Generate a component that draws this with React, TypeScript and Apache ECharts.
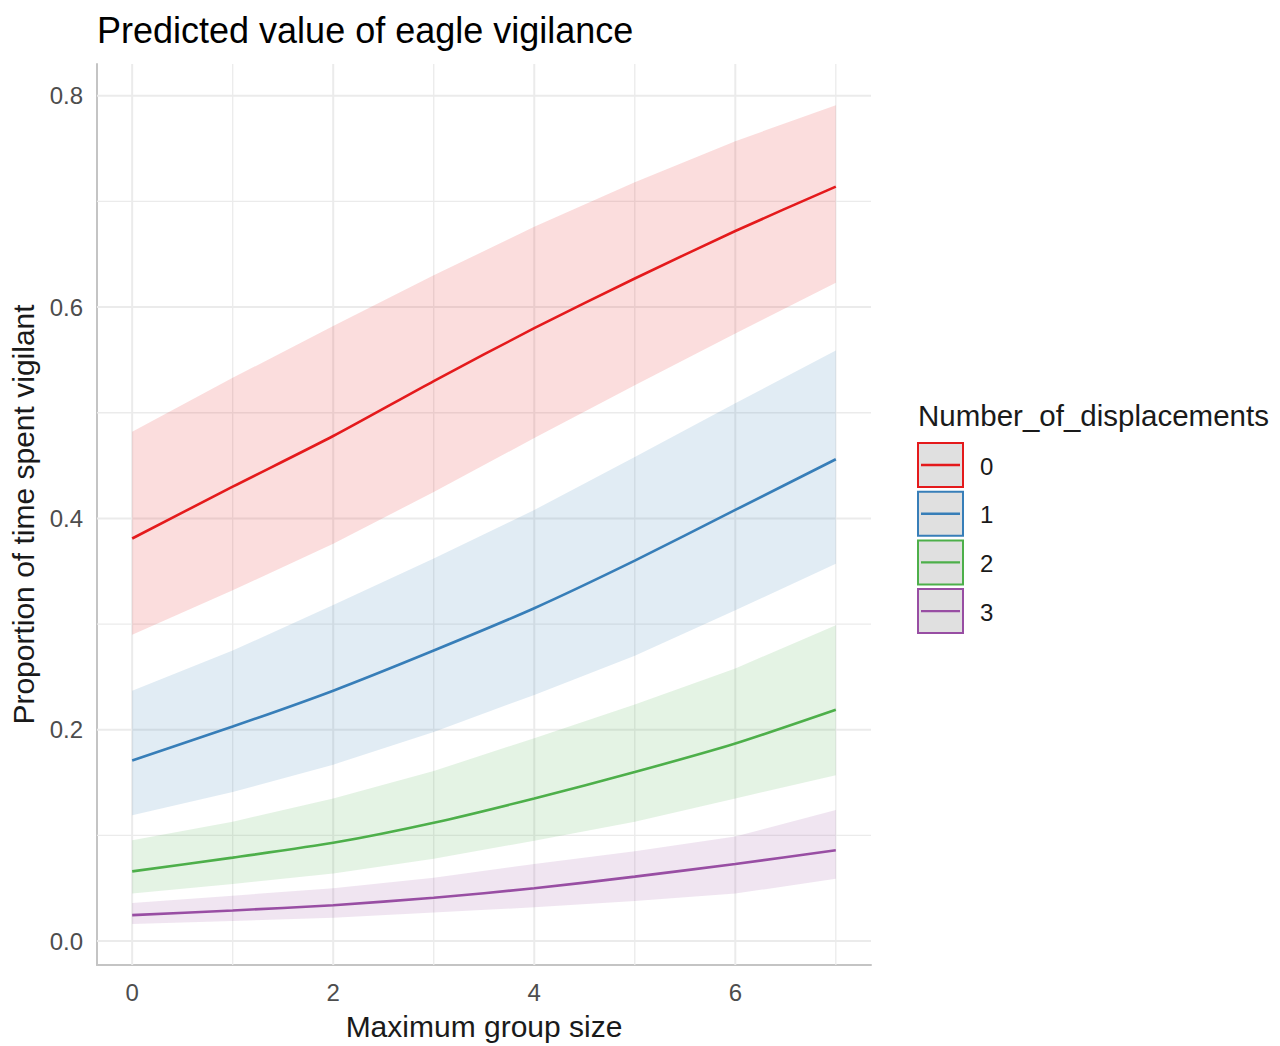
import React, { useEffect, useRef } from "react";
import * as echarts from "echarts";

const groupSize = [0, 1, 2, 3, 4, 5, 6, 7];
const groups = ["0", "1", "2", "3"];
const colors = ["#e41a1c", "#377eb8", "#4daf4a", "#984ea3"];

const fit0 = [0.381, 0.43, 0.478, 0.53, 0.58, 0.627, 0.672, 0.714];
const upper0 = [0.482, 0.533, 0.582, 0.63, 0.676, 0.718, 0.757, 0.791];
const lower0 = [0.29, 0.332, 0.376, 0.425, 0.476, 0.526, 0.575, 0.623];

const fit1 = [0.171, 0.203, 0.237, 0.275, 0.315, 0.36, 0.408, 0.456];
const upper1 = [0.237, 0.275, 0.318, 0.362, 0.408, 0.458, 0.509, 0.559];
const lower1 = [0.119, 0.141, 0.167, 0.198, 0.233, 0.27, 0.313, 0.357];

const fit2 = [0.066, 0.079, 0.093, 0.112, 0.135, 0.16, 0.187, 0.219];
const upper2 = [0.0955, 0.113, 0.135, 0.161, 0.192, 0.224, 0.258, 0.299];
const lower2 = [0.045, 0.054, 0.064, 0.078, 0.095, 0.113, 0.135, 0.157];

const fit3 = [0.0246, 0.029, 0.034, 0.041, 0.05, 0.061, 0.073, 0.086];
const upper3 = [0.036, 0.043, 0.05, 0.06, 0.073, 0.085, 0.099, 0.124];
const lower3 = [0.0162, 0.019, 0.022, 0.027, 0.032, 0.038, 0.045, 0.059];

const fits = [fit0, fit1, fit2, fit3];
const uppers = [upper0, upper1, upper2, upper3];
const lowers = [lower0, lower1, lower2, lower3];

const xMajor = [0, 2, 4, 6];
const xMinor = [1, 3, 5, 7];
const yMajor = [0, 0.2, 0.4, 0.6, 0.8];
const yMinor = [0.1, 0.3, 0.5, 0.7];

const FONT = "Liberation Sans, Arial, sans-serif";

export default function App() {
  const ref = useRef<HTMLDivElement>(null);

  useEffect(() => {
    document.body.style.margin = "0";
    if (!ref.current) return;
    const chart = echarts.init(ref.current, null, { renderer: "svg" });

    const gridData: number[][] = [
      ...xMajor.map((v) => [0, v, 1]),
      ...xMinor.map((v) => [0, v, 0]),
      ...yMajor.map((v) => [1, v, 1]),
      ...yMinor.map((v) => [1, v, 0]),
    ];

    const bandSeries = groups.map((g, gi) => ({
      type: "custom",
      name: "band" + g,
      z: 2,
      silent: true,
      data: groupSize.map((x, i) => [x, uppers[gi][i], lowers[gi][i]]),
      encode: { x: 0, y: [1, 2] },
      renderItem: (params: any, api: any) => {
        if (params.dataIndex !== 0) return null;
        const top = groupSize.map((x, i) => api.coord([x, uppers[gi][i]]));
        const bot = groupSize.map((x, i) => api.coord([x, lowers[gi][i]])).reverse();
        return {
          type: "polygon",
          shape: { points: [...top, ...bot] },
          style: { fill: colors[gi], opacity: 0.15 },
        };
      },
    }));

    const lineSeries = groups.map((g, gi) => ({
      type: "line",
      name: g,
      z: 3,
      data: groupSize.map((x, i) => [x, fits[gi][i]]),
      showSymbol: false,
      symbol: "none",
      smooth: 0.2,
      lineStyle: { color: colors[gi], width: 2.6 },
      itemStyle: { color: colors[gi] },
      silent: true,
    }));

    const legendTop = 443;
    const pitch = 48.7;
    const legendGraphics: any[] = [
      {
        type: "text",
        left: 918,
        top: 400,
        style: {
          text: "Number_of_displacements",
          font: `29.5px ${FONT}`,
          fill: "#1a1a1a",
        },
      },
    ];
    groups.forEach((g, gi) => {
      const y = legendTop + gi * pitch;
      legendGraphics.push({
        type: "rect",
        shape: { x: 918, y: y, width: 45, height: 44 },
        style: { fill: "#e0e0e0", stroke: colors[gi], lineWidth: 2 },
      });
      legendGraphics.push({
        type: "line",
        shape: { x1: 921, y1: y + 22, x2: 960, y2: y + 22 },
        style: { stroke: colors[gi], lineWidth: 2.4 },
      });
      legendGraphics.push({
        type: "text",
        x: 980,
        y: y + 23,
        style: {
          text: g,
          font: `24px ${FONT}`,
          fill: "#1a1a1a",
          textVerticalAlign: "middle",
        },
      });
    });

    chart.setOption({
      animation: false,
      backgroundColor: "#ffffff",
      title: {
        text: "Predicted value of eagle vigilance",
        left: 97,
        top: 12,
        padding: 0,
        textStyle: { fontSize: 36, fontWeight: "normal", color: "#000000", fontFamily: FONT },
      },
      grid: { left: 97, right: 409, top: 64, bottom: 79.5, containLabel: false },
      xAxis: {
        type: "value",
        min: -0.35,
        max: 7.35,
        name: "Maximum group size",
        nameLocation: "middle",
        nameGap: 46,
        nameTextStyle: { fontSize: 30, color: "#1a1a1a", fontFamily: FONT },
        axisLine: { show: true, onZero: false, lineStyle: { color: "#c4c4c4", width: 2 } },
        axisTick: { show: false },
        splitLine: { show: false },
        axisLabel: {
          showMinLabel: false,
          showMaxLabel: false,
          margin: 15,
          fontSize: 24,
          color: "#4d4d4d",
          fontFamily: FONT,
          formatter: (v: number) => String(v),
        },
      },
      yAxis: {
        type: "value",
        min: -0.0226,
        max: 0.83,
        name: "Proportion of time spent vigilant",
        nameLocation: "middle",
        nameGap: 55,
        nameTextStyle: { fontSize: 30, color: "#1a1a1a", fontFamily: FONT },
        axisLine: { show: true, onZero: false, lineStyle: { color: "#c4c4c4", width: 2 } },
        axisTick: { show: false },
        splitLine: { show: false },
        axisLabel: {
          showMinLabel: false,
          showMaxLabel: false,
          margin: 14,
          fontSize: 24,
          color: "#4d4d4d",
          fontFamily: FONT,
          formatter: (v: number) => v.toFixed(1),
        },
      },
      graphic: legendGraphics,
      series: [
        {
          type: "custom",
          name: "grid",
          z: 1,
          silent: true,
          data: gridData,
          encode: { x: 1, y: 1 },
          renderItem: (params: any, api: any) => {
            const dir = api.value(0);
            const v = api.value(1);
            const major = api.value(2);
            const cs = params.coordSys;
            const style = { stroke: "#ebebeb", lineWidth: major ? 2 : 1.3 };
            if (dir === 0) {
              const p = api.coord([v, 0.4]);
              return { type: "line", shape: { x1: p[0], y1: cs.y, x2: p[0], y2: cs.y + cs.height }, style };
            }
            const p = api.coord([3, v]);
            return { type: "line", shape: { x1: cs.x, y1: p[1], x2: cs.x + cs.width, y2: p[1] }, style };
          },
        },
        ...bandSeries,
        ...lineSeries,
      ],
    });

    return () => chart.dispose();
  }, []);

  return <div ref={ref} style={{ width: 1280, height: 1046 }} />;
}
